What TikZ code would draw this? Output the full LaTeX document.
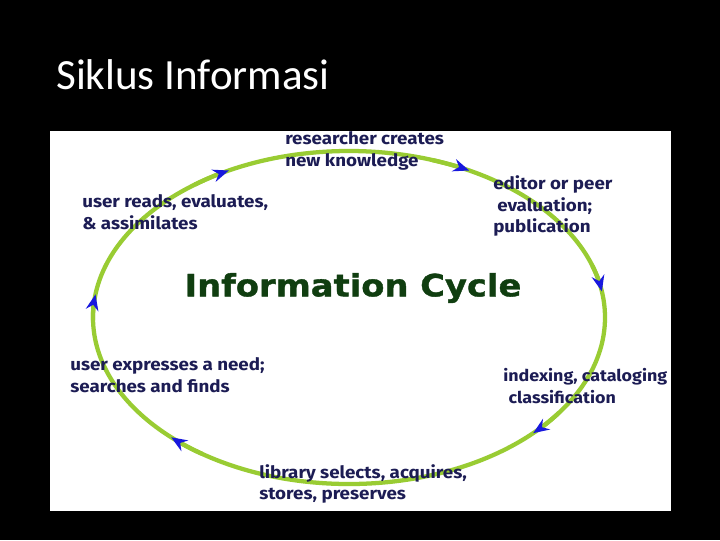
\documentclass[tikz,border=0pt]{standalone}
\usepackage{fontspec}
\setmainfont{Carlito}
\newfontfamily\labelfont{Fira Sans}[FakeStretch=1.1]
\newfontfamily\cyclefont{DejaVu Sans}[FakeStretch=1.1, BoldFeatures={FakeBold=1.2}]
\usetikzlibrary{arrows.meta, calc}
\definecolor{leaf}{RGB}{153,204,51}
\definecolor{tipblue}{RGB}{24,24,222}
\definecolor{ink}{RGB}{28,28,84}
\definecolor{forest}{RGB}{16,62,16}

\begin{document}
\begin{tikzpicture}[x=0.75pt, y=-0.75pt,
  cycleline/.style={line width=3.2pt, leaf},
  tipline/.style={line width=3.2pt, leaf, -{Stealth[length=12pt, width=9.5pt, inset=4pt, tipblue]}},
  stagelabel/.style={anchor=west, align=left, inner sep=0pt, text=ink,
    font=\labelfont\bfseries\fontsize{12.8}{16}\selectfont}]
  % Slide
  \fill[black] (0,0) rectangle (720,540);
  \useasboundingbox (0,0) rectangle (720,540);
  \node[anchor=base west, inner sep=0pt, text=white, font=\fontsize{32.3}{38}\selectfont] (heading) at (56,89) {Siklus Informasi};
  \fill[white] (50,131) rectangle (671,511);
  % Cycle
  \coordinate (c) at (349,317.5);
  \draw[cycleline] (c) ellipse [x radius=256, y radius=166.5];
  \foreach \a in {188,242,298,351,404,494}
    \draw[tipline] ($(c)+(\a-9:256 and 166.5)$) arc[start angle=\a-9, end angle=\a, x radius=256, y radius=166.5];
  % Labels
  \node[font=\cyclefont\bfseries\fontsize{23}{28}\selectfont, text=forest, inner sep=0pt] (title) at (353,288) {Information Cycle};
  \node[stagelabel] (create) at (285,151) {researcher creates\\new knowledge};
  \node[stagelabel] (review) at (493,206) {editor or peer\\\hspace{3pt}evaluation;\\publication};
  \node[stagelabel, font=\labelfont\bfseries\fontsize{12.2}{16}\selectfont] (index) at (503,386) {indexing, cataloging\\\hspace{4pt}classification};
  \node[stagelabel] (store) at (259,484) {library selects, acquires,\\stores, preserves};
  \node[stagelabel] (need) at (70,375) {user expresses a need;\\searches and finds};
  \node[stagelabel] (read) at (82,212) {user reads, evaluates,\\\& assimilates};
\end{tikzpicture}
\end{document}
